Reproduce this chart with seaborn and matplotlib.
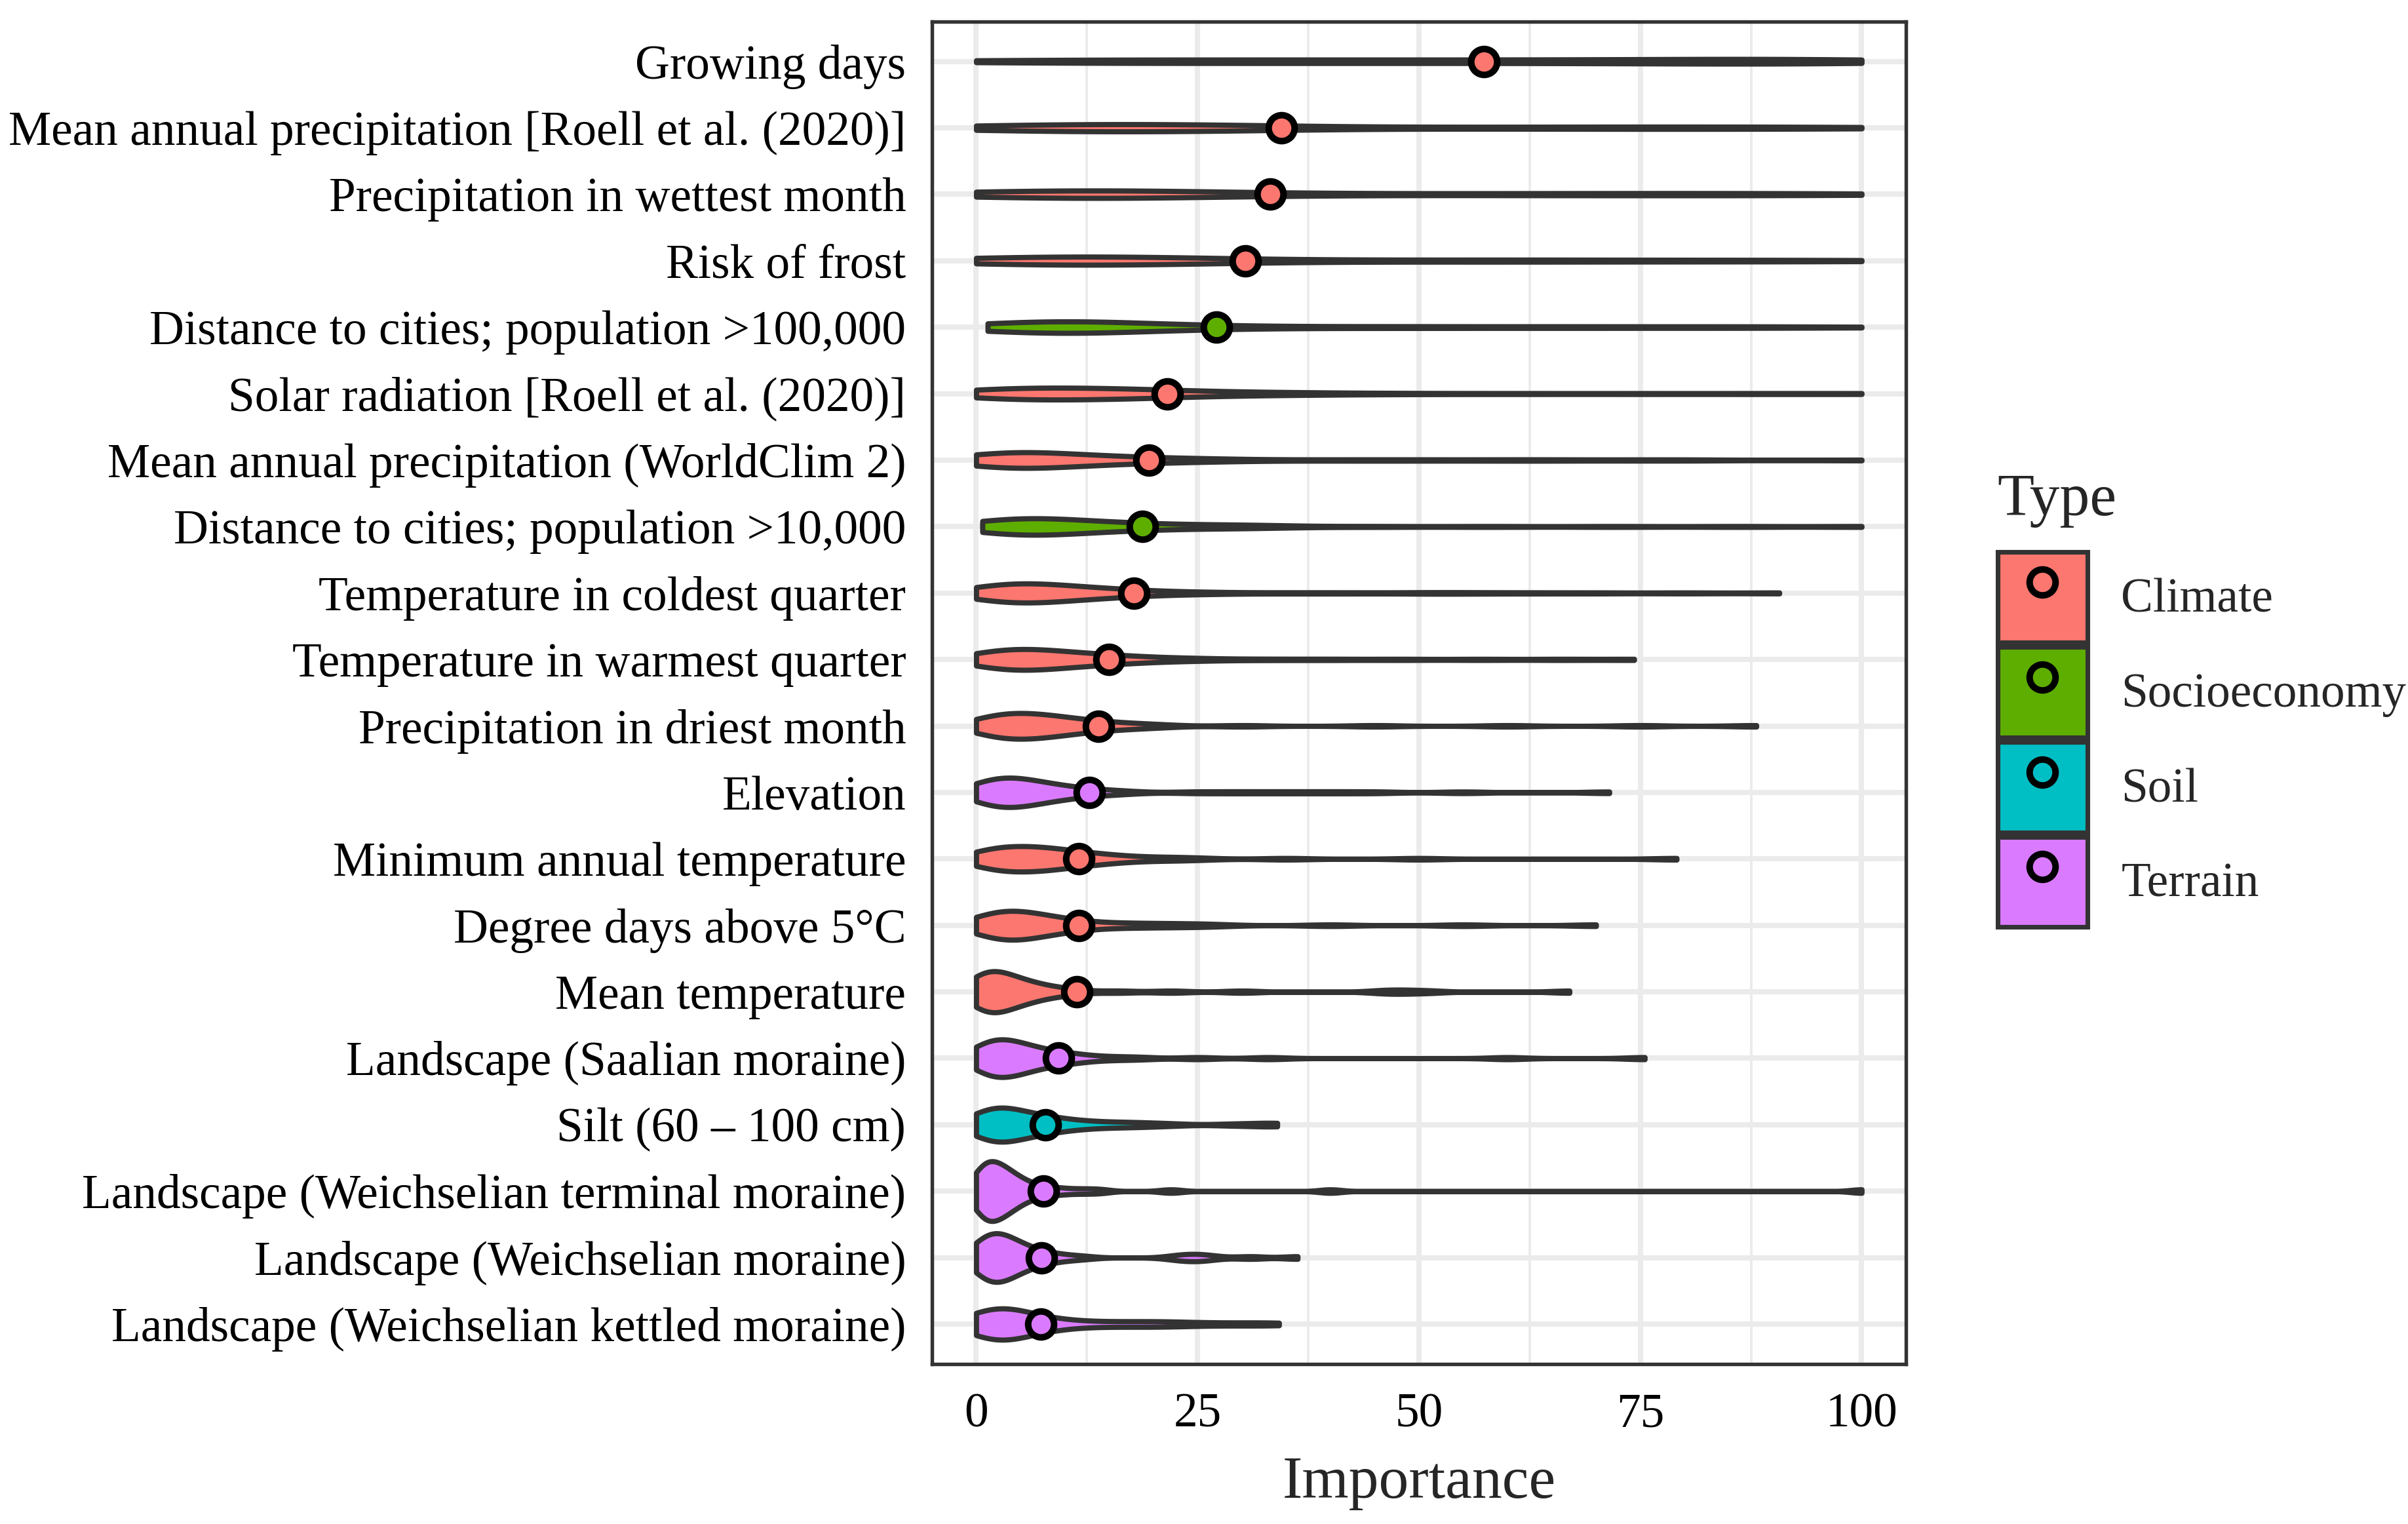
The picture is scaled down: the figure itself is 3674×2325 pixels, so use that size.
import pandas as pd
import numpy as np
import matplotlib
matplotlib.use("Agg")
import matplotlib.pyplot as plt
import seaborn as sns
from matplotlib.patches import Patch
from matplotlib.lines import Line2D

sns.set_style("white")
plt.rcParams['font.family'] = ['Liberation Serif', 'DejaVu Serif']

variables = [
    "Growing days",
    "Mean annual precipitation [Roell et al. (2020)]",
    "Precipitation in wettest month",
    "Risk of frost",
    "Distance to cities; population >100,000",
    "Solar radiation [Roell et al. (2020)]",
    "Mean annual precipitation (WorldClim 2)",
    "Distance to cities; population >10,000",
    "Temperature in coldest quarter",
    "Temperature in warmest quarter",
    "Precipitation in driest month",
    "Elevation",
    "Minimum annual temperature",
    "Degree days above 5°C",
    "Mean temperature",
    "Landscape (Saalian moraine)",
    "Silt (60 – 100 cm)",
    "Landscape (Weichselian terminal moraine)",
    "Landscape (Weichselian moraine)",
    "Landscape (Weichselian kettled moraine)",
]
var_types = ["Climate", "Climate", "Climate", "Climate", "Socioeconomy",
             "Climate", "Climate", "Socioeconomy", "Climate", "Climate",
             "Climate", "Terrain", "Climate", "Climate", "Climate",
             "Terrain", "Soil", "Terrain", "Terrain", "Terrain"]
type_levels = ["Climate", "Socioeconomy", "Soil", "Terrain"]
type_colors = ["#FC776F", "#5EAE00", "#00BFC4", "#DA7BFF"]

# mean importance (points)
means = [57.3, 34.5, 33.2, 30.4, 27.1, 21.6, 19.5, 18.8, 17.8, 15.0,
         13.8, 12.8, 11.6, 11.6, 11.4, 9.3, 7.8, 7.6, 7.4, 7.3]

# importance values per variable
imp_growing = [0, 3, 6, 9, 12, 15, 18, 21, 24, 27, 30, 33, 36, 39, 42, 45, 48, 51, 54, 57,
               60, 63, 66, 69, 72, 75, 78, 80, 82, 84, 86, 88, 90, 92, 94, 95, 96, 97, 98, 100]
imp_precip_roell = [0, 1, 2, 4, 5, 6, 7, 8, 10, 11, 12, 13, 14, 16, 17, 18, 19, 20, 22, 23,
                    24, 25, 26, 28, 29, 30, 31, 32, 38, 44, 50, 56, 62, 68, 70, 74, 80, 85,
                    86, 92, 96, 100]
imp_wettest = [0, 1, 2, 3, 4, 5, 6, 7, 8, 9, 10, 11, 12, 13, 14, 15, 16, 17, 18, 19, 20, 21,
               22, 24, 26, 28, 30, 34, 39, 45, 51, 57, 63, 66, 69, 75, 81, 84, 87, 92, 96, 100]
imp_frost = [0, 0.8, 1.6, 2.4, 3.2, 4, 5, 6, 7, 8, 9, 10, 11, 12, 13, 14, 15, 16, 17, 18,
             19, 20, 21, 22, 24, 26, 28, 30, 35, 41, 47, 53, 59, 60, 65, 71, 77, 83, 89, 95, 100]
imp_city100k = [1.3, 2, 3, 4, 5, 5.5, 6, 6.5, 7, 7.5, 8, 8.5, 9, 9.5, 10, 10.5, 11, 11.5, 12,
                13, 14, 15, 16, 17, 18, 19, 20, 22, 24, 26, 29, 33, 38, 45, 50, 53, 62, 67,
                71, 80, 85, 90, 100]
imp_solar = [0, 0.7, 1.4, 2.1, 2.8, 3.5, 4.2, 5, 6, 7, 8, 9, 10, 11, 12, 13, 14, 15, 16, 17,
             18, 19, 20, 22, 24, 26, 29, 32, 36, 41, 50, 62, 75, 88, 100]
imp_precip_wc = [0, 0.4, 0.8, 1.2, 1.6, 2, 2.4, 2.8, 3.2, 3.6, 4, 4.4, 4.8, 5.2, 5.7, 6.2,
                 6.8, 7.3, 7.9, 8.5, 9.1, 9.7, 10.5, 11.5, 12.5, 13.5, 14.5, 15.6, 16.8, 18,
                 19.3, 21.5, 24, 26.5, 29, 38, 45, 52, 60, 66, 75, 82, 100]
imp_city10k = [0.7, 1.2, 1.7, 2.2, 2.7, 3.2, 3.6, 4, 4.4, 4.8, 5.2, 5.7, 6.2, 6.7, 7.3, 7.9,
               8.5, 9.1, 9.7, 10.3, 11, 11.7, 12.5, 13.6, 14.7, 15.8, 17, 18.2, 19.4, 21.5,
               24, 26.5, 29, 31.5, 34, 45, 58, 72, 86, 100]
imp_coldest = [0, 0.4, 0.8, 1.2, 1.6, 2, 2.4, 2.8, 3.2, 3.6, 4, 4.4, 4.8, 5.2, 5.6, 6, 6.4,
               6.8, 7.2, 7.6, 8, 8.5, 9, 9.5, 10.1, 10.8, 11.5, 12.2, 12.9, 13.6, 14.3, 15.2,
               16.4, 17.6, 18.8, 21, 24, 27.5, 35, 42, 50, 55, 62, 70, 80, 90.7]
imp_warmest = [0, 0.4, 0.8, 1.2, 1.6, 2, 2.4, 2.8, 3.2, 3.6, 4, 4.4, 4.8, 5.2, 5.6, 6, 6.4,
               6.8, 7.2, 7.6, 8, 8.5, 9, 9.5, 10.1, 10.8, 11.5, 12.2, 12.9, 13.6, 14.3, 15.2,
               16.4, 17.6, 18.8, 21, 23.5, 26.5, 33, 40, 48, 57, 66, 74.3]
imp_driest = [0, 0.4, 0.8, 1.2, 1.6, 2.0, 2.4, 2.8, 3.15, 3.5, 3.8, 4.15, 4.5, 4.8, 5.15,
              5.5, 5.8, 6.2, 6.6, 7, 7.4, 7.8, 8.2, 8.6, 9, 9.5, 10.1, 10.7, 11.3, 11.9,
              12.6, 13.6, 14.6, 15.6, 17, 19, 21, 30, 45, 60, 75, 88.1]
imp_elevation = [0, 0.3, 0.6, 0.9, 1.2, 1.5, 1.8, 2.1, 2.4, 2.7, 3, 3.3, 3.6, 3.9, 4.2, 4.5,
                 4.8, 5.1, 5.4, 5.7, 6.1, 6.6, 7.1, 7.6, 8.1, 8.6, 9.3, 10, 10.8, 11.6, 13,
                 14.8, 16.8, 25, 30, 35, 40, 45, 55, 71.5]
imp_mintemp = [0, 0.4, 0.8, 1.2, 1.6, 2, 2.4, 2.8, 3.2, 3.6, 4, 4.4, 4.8, 5.2, 5.6, 6, 6.4,
               6.8, 7.2, 7.6, 8, 8.4, 8.8, 9.4, 10, 10.6, 11.2, 11.8, 12.5, 13.5, 14.5, 15.5,
               17, 19.5, 22, 25, 35, 50, 79.1]
imp_degdays = [0, 0.35, 0.7, 1.05, 1.4, 1.75, 2.1, 2.45, 2.8, 3.1, 3.4, 3.7, 4, 4.3, 4.6, 4.9,
               5.2, 5.5, 5.8, 6.2, 6.7, 7.2, 7.7, 8.2, 8.7, 9.3, 10.1, 10.9, 11.7, 13, 15, 17,
               19, 21.5, 24, 27, 40, 55, 70]
imp_meantemp = [0, 0.15, 0.3, 0.45, 0.6, 0.75, 0.9, 1.05, 1.2, 1.4, 1.6, 1.8, 2, 2.25, 2.5,
                2.75, 3, 3.3, 3.6, 3.9, 4.2, 4.6, 5, 5.4, 5.8, 6.3, 7, 7.7, 8.5, 9.8, 11.2,
                16, 22, 30, 46, 48, 51, 67]
imp_saalian = [0, 0.25, 0.5, 0.75, 1, 1.25, 1.5, 1.75, 2, 2.2, 2.4, 2.6, 2.8, 3.0, 3.3, 3.6,
               3.9, 4.2, 4.5, 4.8, 5.1, 5.4, 5.7, 6, 6.5, 7.1, 7.7, 8.3, 8.9, 9.6, 10.5, 11.4,
               13, 15.5, 18.5, 25, 33, 60, 75.5]
imp_silt = [0, 0.22, 0.44, 0.66, 0.88, 1.1, 1.32, 1.54, 1.76, 2, 2.22, 2.44, 2.66, 2.88, 3.1,
            3.35, 3.6, 3.85, 4.15, 4.5, 4.85, 5.2, 5.55, 5.9, 6.3, 6.8, 7.3, 7.8, 8.3, 8.8,
            9.5, 10.5, 11.5, 12.5, 14, 15.7, 17.4, 19.2, 22, 29, 33, 34]
imp_terminal = [0, 0.15, 0.3, 0.45, 0.6, 0.75, 0.9, 1.05, 1.2, 1.35, 1.5, 1.65, 1.8, 1.95,
                2.1, 2.3, 2.5, 2.7, 2.9, 3.1, 3.3, 3.5, 3.7, 3.9, 4.2, 4.6, 5, 5.4, 5.8, 6.5,
                7.5, 8.5, 10, 12, 14, 22, 40, 100]
imp_weich = [0, 0.18, 0.36, 0.54, 0.72, 0.9, 1.08, 1.26, 1.44, 1.62, 1.8, 2, 2.18, 2.36, 2.54,
             2.72, 2.9, 3.1, 3.3, 3.5, 3.7, 3.9, 4.15, 4.5, 4.85, 5.2, 5.55, 5.9, 6.4, 7.1,
             7.8, 8.6, 10, 12, 22.5, 24, 25, 26.5, 31, 36.3]
imp_kettled = [0, 0.25, 0.5, 0.75, 1, 1.25, 1.5, 1.75, 2, 2.25, 2.5, 2.75, 3, 3.25, 3.5, 3.75,
               4.1, 4.5, 4.9, 5.3, 5.7, 6.3, 7, 7.7, 8.5, 9.8, 11.4, 13, 15.5, 17.5, 19.5,
               21.5, 23.5, 27, 31, 34.2]

imp_lists = [imp_growing, imp_precip_roell, imp_wettest, imp_frost, imp_city100k, imp_solar,
             imp_precip_wc, imp_city10k, imp_coldest, imp_warmest, imp_driest, imp_elevation,
             imp_mintemp, imp_degdays, imp_meantemp, imp_saalian, imp_silt, imp_terminal,
             imp_weich, imp_kettled]

rows = []
for name, t, vals in zip(variables, var_types, imp_lists):
    for v in vals:
        rows.append((name, t, v))
df = pd.DataFrame(rows, columns=["Variable", "Type", "Importance"])
df_mean = pd.DataFrame({"Variable": variables, "Type": var_types, "Importance": means})


def nrd0(kde):
    # R's default bandwidth rule, as a factor of the sample sd for scipy
    x = kde.dataset.ravel()
    sd = x.std(ddof=1)
    iqr = np.percentile(x, 75) - np.percentile(x, 25)
    h = 0.9 * min(sd, iqr / 1.34) * len(x) ** -0.2
    return h / sd


palette = dict(zip(type_levels, type_colors))
edge = "#333333"

fig = plt.figure(figsize=(3674 / 300, 2325 / 300), dpi=300)
ax = fig.add_axes([0.3870, 0.1050, 0.4045, 0.8809])

sns.violinplot(data=df, x="Importance", y="Variable", hue="Type", order=variables,
               hue_order=type_levels, palette=palette, saturation=1, orient="h",
               cut=0, density_norm="area", common_norm=True, inner=None, dodge=False,
               width=0.9, bw_method=nrd0, bw_adjust=0.9, gridsize=500, linecolor=edge,
               linewidth=1.9, legend=False, ax=ax)
sns.stripplot(data=df_mean, x="Importance", y="Variable", hue="Type", order=variables,
              hue_order=type_levels, palette=palette, jitter=False, dodge=False,
              size=9.5, edgecolor="black", linewidth=2.4, legend=False, zorder=5, ax=ax)

ax.set_xlim(-5, 105)
ax.set_ylim(len(variables) - 0.4, -0.6)
ax.set_xticks([0, 25, 50, 75, 100])
ax.set_xticks([12.5, 37.5, 62.5, 87.5], minor=True)
ax.set_axisbelow(True)
ax.grid(which="major", axis="both", color="#EBEBEB", linewidth=1.9)
ax.grid(which="minor", axis="x", color="#EBEBEB", linewidth=0.95)
for s in ax.spines.values():
    s.set_visible(True)
    s.set_color(edge)
    s.set_linewidth(1.3)
ax.tick_params(axis="both", which="major", length=5.5, width=1.3, color=edge,
               labelsize=17.6, labelcolor="black", pad=4)
ax.tick_params(axis="x", which="major", pad=5)
ax.tick_params(axis="x", which="minor", length=0)
ax.set_ylabel("")
ax.set_xlabel("Importance", fontsize=22, labelpad=7)

handles = [(Patch(facecolor=c, edgecolor=edge, linewidth=1.7),
            Line2D([], [], marker="o", linestyle="none", markersize=9.5,
                   markerfacecolor=c, markeredgecolor="black", markeredgewidth=2.4))
           for c in type_colors]
leg = fig.legend(handles, type_levels, title="Type", loc="center left",
                 bbox_to_anchor=(0.8195, 0.5405), frameon=False, fontsize=17.6,
                 title_fontsize=22, handlelength=1.875, handleheight=2.508,
                 handletextpad=0.7, labelspacing=0.1, borderpad=0, alignment="left")
leg._legend_box.sep = 9

fig.savefig("out.png", dpi=300)
